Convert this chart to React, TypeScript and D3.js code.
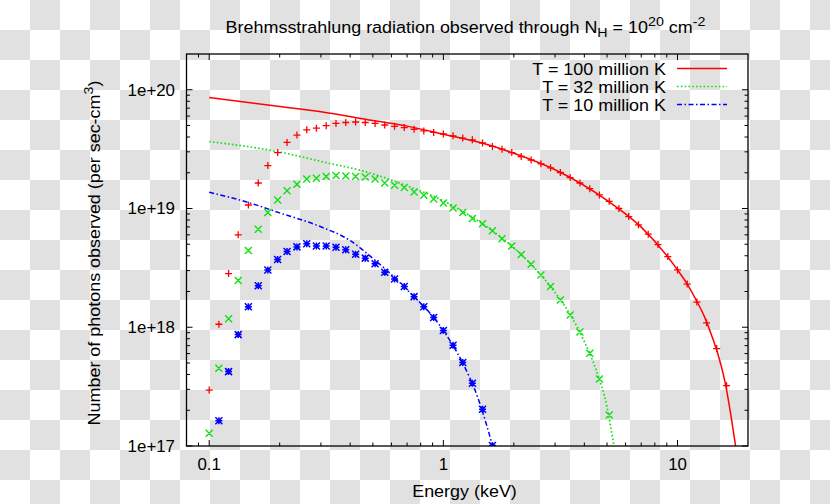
import React from 'react';
import * as d3 from 'd3';

const W = 830;
const H = 504;
const PLOT = { left: 186.5, right: 748, top: 54, bottom: 446 };

const xDomain = [0.08, 20];
const yDomain = [1e17, 2e20];
const xMajorTicks = [0.1, 1, 10];
const xTickLabels = ['0.1', '1', '10'];
const yMajorTicks = [1e17, 1e18, 1e19, 1e20];
const yTickLabels = ['1e+17', '1e+18', '1e+19', '1e+20'];

const seriesNames = ['T = 100 million K', 'T = 32 million K', 'T = 10 million K'];
const seriesColors = ['#ff0000', '#11e011', '#0000ff'];

// Energies (keV) at which the observed (absorbed) spectra are sampled
const pointEnergies = [
  0.1, 0.110, 0.121, 0.133, 0.147, 0.162, 0.178, 0.196, 0.215, 0.237, 0.261, 0.287,
  0.316, 0.348, 0.383, 0.422, 0.464, 0.511, 0.562, 0.619, 0.681, 0.750, 0.825, 0.909,
  1.00, 1.10, 1.21, 1.33, 1.47, 1.62, 1.78, 1.96, 2.15, 2.37, 2.61, 2.87, 3.16, 3.48,
  3.83, 4.22, 4.64, 5.11, 5.62, 6.19, 6.81, 7.50, 8.25, 9.09, 10.0, 11.0, 12.1, 13.3,
  14.7, 16.2,
];

// Observed photons, T = 100 million K (+ markers)
const red100Points = [
  2.96e17, 1.06e18, 2.83e18, 6.0e18, 1.07e19, 1.64e19, 2.30e19, 2.96e19, 3.60e19, 4.15e19,
  4.60e19, 4.75e19, 4.98e19, 5.20e19, 5.30e19, 5.35e19, 5.30e19, 5.20e19, 5.05e19, 4.92e19,
  4.80e19, 4.65e19, 4.50e19, 4.37e19, 4.24e19, 4.09e19, 3.92e19, 3.79e19, 3.56e19, 3.33e19,
  3.16e19, 2.96e19, 2.74e19, 2.56e19, 2.38e19, 2.20e19, 2.01e19, 1.82e19, 1.64e19, 1.47e19,
  1.30e19, 1.15e19, 1.00e19, 8.55e18, 7.28e18, 6.08e18, 4.97e18, 3.94e18, 3.04e18, 2.31e18,
  1.63e18, 1.09e18, 6.61e17, 3.22e17,
];

// Observed photons, T = 32 million K (x markers)
const green32Points = [
  1.28e17, 4.52e17, 1.18e18, 2.47e18, 4.43e18, 6.70e18, 9.25e18, 1.18e19, 1.41e19, 1.60e19,
  1.77e19, 1.80e19, 1.86e19, 1.90e19, 1.88e19, 1.86e19, 1.84e19, 1.77e19, 1.64e19, 1.57e19,
  1.50e19, 1.38e19, 1.29e19, 1.20e19, 1.11e19, 1.01e19, 9.25e18, 8.22e18, 7.43e18, 6.49e18,
  5.55e18, 4.83e18, 4.09e18, 3.40e18, 2.76e18, 2.20e18, 1.70e18, 1.27e18, 9.14e17, 6.04e17,
  3.67e17, 1.82e17,
];

// Observed photons, T = 10 million K (* markers), starting at the 2nd energy
const blue10Points = [
  1.63e17, 4.23e17, 8.67e17, 1.49e18, 2.24e18, 3.03e18, 3.72e18, 4.34e18, 4.75e18,
  5.04e18, 4.84e18, 4.84e18, 4.72e18, 4.49e18, 4.12e18, 3.82e18, 3.42e18, 2.91e18, 2.55e18,
  2.20e18, 1.81e18, 1.49e18, 1.21e18, 9.38e17, 7.06e17, 5.04e17, 3.37e17, 2.04e17, 1.01e17,
];

// Emitted (unabsorbed) spectra drawn as lines
const red100LineE = [0.1, 0.2, 0.3, 0.5, 0.7, 1, 1.5, 2, 3, 5, 7, 10, 11, 12, 13, 14, 15, 16, 17, 17.7];
const red100Line = [
  8.61e19, 7.23e19, 6.53e19, 5.50e19, 4.94e19, 4.22e19, 3.51e19, 2.92e19, 2.12e19, 1.17e19,
  6.97e18, 3.04e18, 2.31e18, 1.70e18, 1.24e18, 8.49e17, 5.62e17, 3.37e17, 1.69e17, 1.0e17,
];
const green32LineE = [0.1, 0.2, 0.3, 0.5, 0.7, 1, 1.5, 2, 2.5, 3, 3.5, 4, 4.5, 5, 5.35];
const green32Line = [
  3.66e19, 2.99e19, 2.49e19, 1.96e19, 1.55e19, 1.16e19, 7.21e18, 4.67e18, 3.03e18, 1.96e18,
  1.26e18, 7.59e17, 4.31e17, 2.13e17, 1.0e17,
];
const blue10LineE = [0.1, 0.15, 0.2, 0.3, 0.4, 0.5, 0.7, 1, 1.2, 1.4, 1.5, 1.6, 1.62];
const blue10Line = [
  1.37e19, 1.11e19, 9.18e18, 7.01e18, 5.37e18, 3.80e18, 2.07e18, 9.38e17, 5.15e17, 2.59e17,
  1.71e17, 1.10e17, 1.0e17,
];

const FONT = '"Liberation Sans", Arial, Helvetica, sans-serif';
const STRETCH = 1.055;

function markerPath(kind: string, x: number, y: number, s: number) {
  const plus = `M${x - s},${y}H${x + s}M${x},${y - s}V${y + s}`;
  const cross = `M${x - s},${y - s}L${x + s},${y + s}M${x - s},${y + s}L${x + s},${y - s}`;
  if (kind === '+') return plus;
  if (kind === 'x') return cross;
  return plus + cross;
}

function at(x: number, y: number, rot = 0) {
  return `translate(${x},${y})${rot ? ` rotate(${rot})` : ''} scale(${STRETCH},1)`;
}

export default function App() {
  const x = d3.scaleLog().domain(xDomain).range([PLOT.left, PLOT.right]);
  const y = d3.scaleLog().domain(yDomain).range([PLOT.bottom, PLOT.top]);

  const xMinor: number[] = [];
  for (let d = -2; d <= 1; d++) {
    for (let m = 2; m <= 9; m++) {
      const v = m * Math.pow(10, d);
      if (v > xDomain[0] && v < xDomain[1]) xMinor.push(v);
    }
  }
  const yMinor: number[] = [];
  for (let d = 17; d <= 20; d++) {
    for (let m = 2; m <= 9; m++) {
      const v = m * Math.pow(10, d);
      if (v > yDomain[0] && v < yDomain[1]) yMinor.push(v);
    }
  }

  const line = d3
    .line<[number, number]>()
    .x((d) => x(d[0]))
    .y((d) => y(d[1]))
    .curve(d3.curveMonotoneX);

  const lines = [
    { e: red100LineE, v: red100Line, color: seriesColors[0], dash: undefined, w: 1.5 },
    { e: green32LineE, v: green32Line, color: seriesColors[1], dash: '1.6,2.2', w: 1.7 },
    { e: blue10LineE, v: blue10Line, color: seriesColors[2], dash: '5,2.5,1.5,2.5', w: 1.5 },
  ];

  const points = [
    { e: pointEnergies.slice(0, red100Points.length), v: red100Points, kind: '+', color: seriesColors[0], w: 1.3 },
    { e: pointEnergies.slice(0, green32Points.length), v: green32Points, kind: 'x', color: seriesColors[1], w: 1.4 },
    { e: pointEnergies.slice(1, 1 + blue10Points.length), v: blue10Points, kind: '*', color: seriesColors[2], w: 1.5 },
  ];

  const majorLen = 6;
  const minorLen = 3.5;

  return (
    <svg
      width={W}
      height={H}
      style={{ position: 'absolute', left: 0, top: 0, display: 'block' }}
      fontFamily={FONT}
    >
      <defs>
        <pattern id="checker" width="60" height="60" patternUnits="userSpaceOnUse">
          <rect x="0" y="0" width="60" height="60" fill="#ffffff" />
          <rect x="30" y="0" width="30" height="30" fill="#e1e1e1" />
          <rect x="0" y="30" width="30" height="30" fill="#e1e1e1" />
        </pattern>
        <clipPath id="plotClip">
          <rect x={PLOT.left} y={PLOT.top} width={PLOT.right - PLOT.left} height={PLOT.bottom - PLOT.top} />
        </clipPath>
      </defs>
      <rect x={0} y={0} width={W} height={H} fill="url(#checker)" />

      {/* ticks */}
      <g stroke="#000" strokeWidth={1}>
        {xMajorTicks.map((t) => (
          <g key={'xM' + t}>
            <line x1={x(t)} x2={x(t)} y1={PLOT.bottom} y2={PLOT.bottom - majorLen} />
            <line x1={x(t)} x2={x(t)} y1={PLOT.top} y2={PLOT.top + majorLen} />
          </g>
        ))}
        {xMinor.map((t) => (
          <g key={'xm' + t}>
            <line x1={x(t)} x2={x(t)} y1={PLOT.bottom} y2={PLOT.bottom - minorLen} />
            <line x1={x(t)} x2={x(t)} y1={PLOT.top} y2={PLOT.top + minorLen} />
          </g>
        ))}
        {yMajorTicks.map((t) => (
          <g key={'yM' + t}>
            <line x1={PLOT.left} x2={PLOT.left + majorLen} y1={y(t)} y2={y(t)} />
            <line x1={PLOT.right} x2={PLOT.right - majorLen} y1={y(t)} y2={y(t)} />
          </g>
        ))}
        {yMinor.map((t) => (
          <g key={'ym' + t}>
            <line x1={PLOT.left} x2={PLOT.left + minorLen} y1={y(t)} y2={y(t)} />
            <line x1={PLOT.right} x2={PLOT.right - minorLen} y1={y(t)} y2={y(t)} />
          </g>
        ))}
      </g>

      {/* tick labels */}
      <g fontSize={16} fill="#000">
        {xMajorTicks.map((t, i) => (
          <text key={'xl' + t} transform={at(x(t), 470)} textAnchor="middle">
            {xTickLabels[i]}
          </text>
        ))}
        {yMajorTicks.map((t, i) => (
          <text key={'yl' + t} transform={at(175, y(t) + 6)} textAnchor="end">
            {yTickLabels[i]}
          </text>
        ))}
      </g>

      {/* data */}
      <g clipPath="url(#plotClip)">
        {lines.map((l, i) => (
          <path
            key={'line' + i}
            d={line(l.e.map((e, j) => [e, l.v[j]]) as [number, number][]) || ''}
            fill="none"
            stroke={l.color}
            strokeWidth={l.w}
            strokeDasharray={l.dash}
          />
        ))}
        {points.map((p, i) => (
          <path
            key={'pts' + i}
            d={p.e.map((e, j) => markerPath(p.kind, x(e), y(p.v[j]), 3.5)).join('')}
            fill="none"
            stroke={p.color}
            strokeWidth={p.w}
          />
        ))}
      </g>

      {/* frame */}
      <rect
        x={PLOT.left}
        y={PLOT.top}
        width={PLOT.right - PLOT.left}
        height={PLOT.bottom - PLOT.top}
        fill="none"
        stroke="#000"
        strokeWidth={1.3}
      />

      {/* legend */}
      <g fontSize={17}>
        {seriesNames.map((name, i) => (
          <g key={'leg' + i}>
            <text transform={at(666, 74.5 + i * 18)} textAnchor="end" fill="#000">
              {name}
            </text>
            <line
              x1={677}
              x2={727}
              y1={68.5 + i * 18}
              y2={68.5 + i * 18}
              stroke={seriesColors[i]}
              strokeWidth={lines[i].w}
              strokeDasharray={lines[i].dash}
            />
          </g>
        ))}
      </g>

      {/* title */}
      <text transform={at(465.5, 33)} textAnchor="middle" fontSize={17} fill="#000">
        Brehmsstrahlung radiation observed through N
        <tspan fontSize={13.5} dy={4}>H</tspan>
        <tspan dy={-4}> = 10</tspan>
        <tspan fontSize={13.5} dy={-7}>20</tspan>
        <tspan dy={7}> cm</tspan>
        <tspan fontSize={13.5} dy={-7}>-2</tspan>
      </text>

      {/* axis labels */}
      <text transform={at(464.5, 497)} textAnchor="middle" fontSize={17} fill="#000">
        Energy (keV)
      </text>
      <text transform={at(100, 253, -90)} textAnchor="middle" fontSize={17} fill="#000">
        Number of photons observed (per sec-cm
        <tspan fontSize={13.5} dy={-7}>3</tspan>
        <tspan dy={7}>)</tspan>
      </text>
    </svg>
  );
}
